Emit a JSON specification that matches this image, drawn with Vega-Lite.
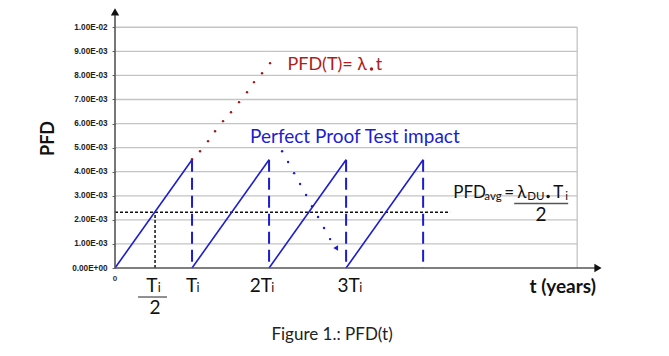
{
  "$schema": "https://vega.github.io/schema/vega-lite/v6.json",
  "width": 493,
  "height": 260,
  "autosize": "none",
  "padding": {"left": 115, "top": 8, "right": 61, "bottom": 88},
  "background": "white",
  "config": {"view": {"stroke": null}, "font": "Lato"},
  "datasets": {
    "grid": [
      {"t": 0, "t2": 6, "v": 0.001, "v2": 0.001},
      {"t": 0, "t2": 6, "v": 0.002, "v2": 0.002},
      {"t": 0, "t2": 6, "v": 0.003, "v2": 0.003},
      {"t": 0, "t2": 6, "v": 0.004, "v2": 0.004},
      {"t": 0, "t2": 6, "v": 0.005, "v2": 0.005},
      {"t": 0, "t2": 6, "v": 0.006, "v2": 0.006},
      {"t": 0, "t2": 6, "v": 0.007, "v2": 0.007},
      {"t": 0, "t2": 6, "v": 0.008, "v2": 0.008},
      {"t": 0, "t2": 6, "v": 0.009, "v2": 0.009},
      {"t": 0, "t2": 6, "v": 0.010, "v2": 0.010},
      {"t": 6, "t2": 6, "v": 0, "v2": 0.010}
    ],
    "axes": [
      {"t": 0, "t2": 6.25, "v": 0, "v2": 0},
      {"t": 0, "t2": 0, "v": 0, "v2": 0.0105}
    ],
    "arrowX": [{"t": 6.27, "v": 0}],
    "arrowY": [{"t": 0, "v": 0.01064}],
    "ramps": [
      {"t": 0, "v": 0, "t2": 1, "v2": 0.0045},
      {"t": 1, "v": 0, "t2": 2, "v2": 0.0045},
      {"t": 2, "v": 0, "t2": 3, "v2": 0.0045},
      {"t": 3, "v": 0, "t2": 4, "v2": 0.0045}
    ],
    "drops": [
      {"t": 1, "v": 0.0045, "t2": 1, "v2": 0},
      {"t": 2, "v": 0.0045, "t2": 2, "v2": 0},
      {"t": 3, "v": 0.0045, "t2": 3, "v2": 0},
      {"t": 4, "v": 0.0045, "t2": 4, "v2": 0}
    ],
    "avg": [
      {"t": 0, "v": 0.00232, "t2": 4.35, "v2": 0.00232},
      {"t": 0.52, "v": 0, "t2": 0.52, "v2": 0.00232}
    ],
    "bars": [
      {"t": 0.299, "t2": 0.675, "v": -0.001205, "v2": -0.001205},
      {"t": 5.182, "t2": 5.883, "v": 0.00268, "v2": 0.00268}
    ],
    "reddots": [
      {"t": 1.0, "v": 0.00452},
      {"t": 1.104, "v": 0.00485},
      {"t": 1.208, "v": 0.00527},
      {"t": 1.299, "v": 0.00568},
      {"t": 1.403, "v": 0.0061},
      {"t": 1.506, "v": 0.00647},
      {"t": 1.61, "v": 0.00689},
      {"t": 1.714, "v": 0.0073},
      {"t": 1.805, "v": 0.00772},
      {"t": 1.909, "v": 0.00809},
      {"t": 2.013, "v": 0.00851}
    ],
    "bluedots": [
      {"t": 2.169, "v": 0.00485},
      {"t": 2.247, "v": 0.0044},
      {"t": 2.325, "v": 0.00394},
      {"t": 2.403, "v": 0.00349},
      {"t": 2.481, "v": 0.00303},
      {"t": 2.558, "v": 0.00257},
      {"t": 2.636, "v": 0.00212},
      {"t": 2.714, "v": 0.00166},
      {"t": 2.792, "v": 0.0012}
    ],
    "bluearrow": [{"t": 2.88, "v": 0.0008}],
    "redBullet": [{"t": 3.33, "v": 0.00827}],
    "blackBullet": [{"t": 5.623, "v": 0.00297}],
    "mainC": [
      {"label": "T", "t": 0.477, "v": -0.00075},
      {"label": "2", "t": 0.519, "v": -0.00165},
      {"label": "T", "t": 0.994, "v": -0.00075},
      {"label": "2T", "t": 1.895, "v": -0.00075},
      {"label": "3T", "t": 3.032, "v": -0.00075},
      {"label": "2", "t": 5.532, "v": 0.0022}
    ],
    "subC": [
      {"label": "i", "t": 0.575, "v": -0.00085},
      {"label": "i", "t": 1.078, "v": -0.00085},
      {"label": "i", "t": 2.048, "v": -0.00085},
      {"label": "i", "t": 3.191, "v": -0.00085}
    ],
    "mainL": [
      {"label": "PFD", "t": 4.39, "v": 0.00311},
      {"label": "=", "t": 5.052, "v": 0.00311},
      {"label": "λ", "t": 5.221, "v": 0.00311},
      {"label": "T", "t": 5.688, "v": 0.00311}
    ],
    "subL": [
      {"label": "avg", "t": 4.795, "v": 0.00295},
      {"label": "DU", "t": 5.351, "v": 0.00295},
      {"label": "i", "t": 5.844, "v": 0.00295}
    ],
    "redText": [
      {"label": "PFD(T)= λ", "t": 2.238, "v": 0.00843},
      {"label": "t", "t": 3.385, "v": 0.00843}
    ],
    "blueText": [{"label": "Perfect Proof Test impact", "t": 1.753, "v": 0.00544}],
    "xTitle": [{"label": "t (years)", "t": 5.812, "v": -0.00079}],
    "zero": [{"label": "0", "t": 0, "v": -0.00046}],
    "caption": [{"label": "Figure 1.: PFD(t)", "t": 2.818, "v": -0.00278}]
  },
  "encoding": {
    "x": {"field": "t", "type": "quantitative", "scale": {"domain": [0, 6.4], "nice": false, "zero": false}, "axis": null},
    "y": {
      "field": "v", "type": "quantitative",
      "scale": {"domain": [0, 0.0108], "nice": false, "zero": false},
      "axis": {
        "values": [0, 0.001, 0.002, 0.003, 0.004, 0.005, 0.006, 0.007, 0.008, 0.009, 0.01],
        "labelExpr": "datum.value == 0 ? '0.00E+00' : replace(upper(format(datum.value, '.2e')), 'E-', 'E-0')",
        "grid": false, "domain": false, "ticks": true, "tickSize": 3, "tickColor": "#666", "tickWidth": 1,
        "labelFont": "Liberation Sans", "labelFontSize": 8.2, "labelFontWeight": "bold", "labelColor": "#222", "labelPadding": 5,
        "title": "PFD", "titleFont": "Lato", "titleFontSize": 18, "titleFontWeight": "bold", "titleColor": "#111", "titlePadding": 14
      }
    }
  },
  "layer": [
    {"data": {"name": "grid"}, "mark": {"type": "rule", "color": "#c4c4c4", "strokeWidth": 1.3}, "encoding": {"x2": {"field": "t2"}, "y2": {"field": "v2"}}},
    {"data": {"name": "avg"}, "mark": {"type": "rule", "color": "#111", "strokeWidth": 1.5, "strokeDash": [3, 2]}, "encoding": {"x2": {"field": "t2"}, "y2": {"field": "v2"}}},
    {"data": {"name": "ramps"}, "mark": {"type": "rule", "color": "#1c1cd0", "strokeWidth": 1.6}, "encoding": {"x2": {"field": "t2"}, "y2": {"field": "v2"}}},
    {"data": {"name": "drops"}, "mark": {"type": "rule", "color": "#1c1cd0", "strokeWidth": 2, "strokeDash": [12, 6]}, "encoding": {"x2": {"field": "t2"}, "y2": {"field": "v2"}}},
    {"data": {"name": "axes"}, "mark": {"type": "rule", "color": "#555", "strokeWidth": 1.6}, "encoding": {"x2": {"field": "t2"}, "y2": {"field": "v2"}}},
    {"data": {"name": "arrowX"}, "mark": {"type": "point", "shape": "triangle-right", "filled": true, "color": "#111", "size": 70, "opacity": 1}},
    {"data": {"name": "arrowY"}, "mark": {"type": "point", "shape": "triangle-up", "filled": true, "color": "#111", "size": 70, "opacity": 1}},
    {"data": {"name": "bars"}, "mark": {"type": "rule", "color": "#555", "strokeWidth": 1.3}, "encoding": {"x2": {"field": "t2"}, "y2": {"field": "v2"}}},
    {"data": {"name": "reddots"}, "mark": {"type": "point", "filled": true, "color": "#a01818", "size": 6, "opacity": 1}},
    {"data": {"name": "bluedots"}, "mark": {"type": "point", "filled": true, "color": "#1c1cd0", "size": 6, "opacity": 1}},
    {"data": {"name": "bluearrow"}, "mark": {"type": "point", "shape": "triangle-up", "angle": 150, "filled": true, "color": "#1c1cd0", "size": 30, "opacity": 1}},
    {"data": {"name": "redBullet"}, "mark": {"type": "point", "filled": true, "color": "#b01c1c", "size": 12, "opacity": 1}},
    {"data": {"name": "blackBullet"}, "mark": {"type": "point", "filled": true, "color": "#111", "size": 12, "opacity": 1}},
    {"data": {"name": "mainC"}, "mark": {"type": "text", "align": "center", "baseline": "middle", "font": "Lato", "fontSize": 19, "color": "#111"}, "encoding": {"text": {"field": "label"}}},
    {"data": {"name": "subC"}, "mark": {"type": "text", "align": "center", "baseline": "middle", "font": "Lato", "fontSize": 12.5, "color": "#111"}, "encoding": {"text": {"field": "label"}}},
    {"data": {"name": "mainL"}, "mark": {"type": "text", "align": "left", "baseline": "middle", "font": "Lato", "fontSize": 17, "color": "#111"}, "encoding": {"text": {"field": "label"}}},
    {"data": {"name": "subL"}, "mark": {"type": "text", "align": "left", "baseline": "middle", "font": "Lato", "fontSize": 11.5, "color": "#111"}, "encoding": {"text": {"field": "label"}}},
    {"data": {"name": "redText"}, "mark": {"type": "text", "align": "left", "baseline": "middle", "font": "Lato", "fontSize": 18, "color": "#b01c1c"}, "encoding": {"text": {"field": "label"}}},
    {"data": {"name": "blueText"}, "mark": {"type": "text", "align": "left", "baseline": "middle", "font": "Lato", "fontSize": 19, "color": "#1c1cd0"}, "encoding": {"text": {"field": "label"}}},
    {"data": {"name": "xTitle"}, "mark": {"type": "text", "align": "center", "baseline": "middle", "font": "Lato", "fontSize": 19, "fontWeight": "bold", "color": "#111"}, "encoding": {"text": {"field": "label"}}},
    {"data": {"name": "zero"}, "mark": {"type": "text", "align": "center", "baseline": "middle", "font": "Liberation Sans", "fontSize": 8, "fontWeight": "bold", "color": "#333"}, "encoding": {"text": {"field": "label"}}},
    {"data": {"name": "caption"}, "mark": {"type": "text", "align": "center", "baseline": "middle", "font": "Lato", "fontSize": 17, "color": "#222"}, "encoding": {"text": {"field": "label"}}}
  ]
}
